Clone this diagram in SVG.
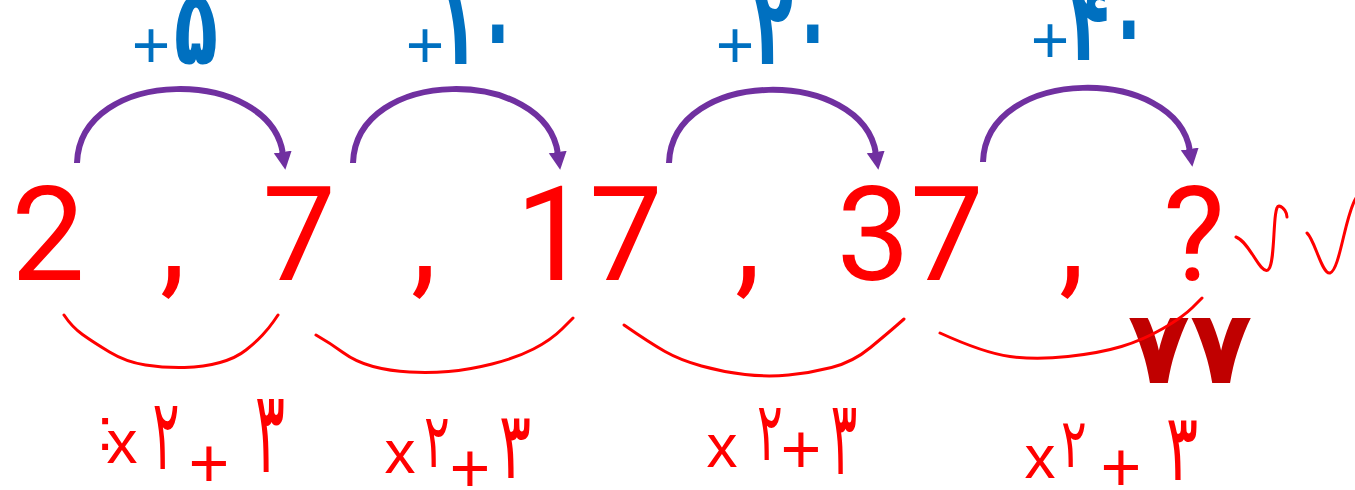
<svg xmlns="http://www.w3.org/2000/svg" width="1355" height="490" viewBox="0 0 1355 490">
<style>
.num{font-family:Roboto,"Liberation Sans",sans-serif;font-size:131px;fill:#ff0000;text-anchor:middle}
.plus{font-family:"Liberation Sans",Arial,sans-serif;font-size:66px;fill:#0070c0;text-anchor:middle}
.pd{font-family:"DejaVu Sans",sans-serif;font-weight:bold;font-size:72px;fill:#0070c0;text-anchor:middle}
.arc{fill:none;stroke:#7030a0;stroke-width:6;stroke-linecap:butt;marker-end:url(#ah)}
.ul{fill:none;stroke:#ff0000;stroke-width:3;stroke-linecap:round;stroke-linejoin:round}
.hw{font-family:"DejaVu Sans",sans-serif;fill:#ff0000;text-anchor:middle}
.hx{font-family:"Liberation Sans",sans-serif;font-size:62px}
.hd{font-size:80px}
.hp{font-family:"Liberation Sans",sans-serif;font-size:70px}
.ans{font-family:"DejaVu Sans",sans-serif;font-weight:bold;font-size:102px;fill:#c00000;text-anchor:middle}
</style>
<defs>
<marker id="ah" markerUnits="userSpaceOnUse" markerWidth="18" markerHeight="20" viewBox="0 0 18 20" refX="2" refY="10" orient="auto">
<path d="M0,1 L18,10 L0,19 z" fill="#7030a0"/>
</marker>
</defs>
<rect width="1355" height="490" fill="#ffffff"/>

<g id="label-plus5"><text class="plus" x="151" y="68">+</text><text class="pd" transform="translate(196,64) scale(1,1.5)">۵</text></g>
<g id="label-plus10"><text class="plus" x="425" y="68">+</text><text class="pd" transform="translate(478,64) scale(0.9,1.5)">۱۰</text></g>
<g id="label-plus20"><text class="plus" x="735" y="68">+</text><text class="pd" transform="translate(793,64) scale(0.9,1.5)">۲۰</text></g>
<g id="label-plus40"><text class="plus" x="1050" y="63">+</text><text class="pd" transform="translate(1109,60) scale(0.9,1.5)">۴۰</text></g>

<g id="n1"><text class="num" x="48" y="280">2</text></g>
<g id="c1"><text class="num" x="173" y="280">,</text></g>
<g id="n2"><text class="num" x="299" y="280">7</text></g>
<g id="c2"><text class="num" x="424" y="280">,</text></g>
<g id="n3"><text class="num" x="589" y="280">17</text></g>
<g id="c3"><text class="num" x="748" y="280">,</text></g>
<g id="n4"><text class="num" x="910" y="280">37</text></g>
<g id="c4"><text class="num" x="1072" y="280">,</text></g>
<g id="n5"><text class="num" x="1194" y="280">?</text></g>

<g id="checks">
<path class="ul" stroke-width="2.5" d="M1236,237 C1250,242 1260,275 1268,270 C1276,265 1272,205 1279,206 C1284,207 1287,213 1287,217"/>
<path class="ul" stroke-width="2.5" d="M1307,233 C1315,240 1322,275 1330,273 C1340,270 1345,215 1356,198"/>
</g>

<g id="answer"><text class="ans" x="1190" y="383">۷۷</text></g>

<g id="rule1">
<text class="hw hx" x="105" y="450" font-size="24">:</text>
<text class="hw hx" x="122" y="463">x</text>
<text class="hw hd" transform="translate(166,469) scale(0.63,1.24)">۲</text>
<text class="hw hp" x="209" y="487">+</text>
<text class="hw hd" transform="translate(270,472) scale(0.7,1.44)">۳</text>
</g>
<g id="rule2">
<text class="hw hx" x="400" y="473">x</text>
<text class="hw hd" transform="translate(437,467) scale(0.6,0.95)">۲</text>
<text class="hw hp" x="470" y="492">+</text>
<text class="hw hd" transform="translate(515,478) scale(0.75,1.17)">۳</text>
</g>
<g id="rule3">
<text class="hw hx" x="722" y="467">x</text>
<text class="hw hd" transform="translate(770,460) scale(0.6,1.02)">۲</text>
<text class="hw hp" x="801" y="473">+</text>
<text class="hw hd" transform="translate(844,474) scale(0.62,1.3)">۳</text>
</g>
<g id="rule4">
<text class="hw hx" x="1040" y="478">x</text>
<text class="hw hd" transform="translate(1074,467) scale(0.6,0.86)">۲</text>
<text class="hw hp" x="1121" y="491">+</text>
<text class="hw hd" transform="translate(1182,480) scale(0.75,1.17)">۳</text>
</g>

<g id="connectors">
<path class="arc" d="M77,163 C80,66 270,66 283,154"/>
<path class="arc" d="M353,163 C356,66 546,66 558,154"/>
<path class="arc" d="M669,163 C672,67 863,67 876,154"/>
<path class="arc" d="M983,162 C986,65 1177,65 1190,151"/>
<path class="ul" d="M64,315 Q72,327 82.5,334.5 Q93,342 109.5,352 Q126,362 145.5,365 Q165,368 184.5,367.5 Q204,367 220,362.5 Q236,358 246,350 Q256,342 262.5,335 Q269,328 273.5,321.5 L278,315"/>
<path class="ul" d="M316,335 Q330,343 343,352.5 Q356,362 373,366.5 Q390,371 409.5,372 Q429,373 448.5,371.5 Q468,370 492,364 Q516,358 533.5,349 Q551,340 562,329 L573,318"/>
<path class="ul" d="M624,325 Q650,343 665,351.5 Q680,360 701.5,366 Q723,372 745,374.5 Q767,377 788.5,375 Q810,373 831.5,367.5 Q853,362 870.5,347.5 Q888,333 896,326 L904,319"/>
<path class="ul" d="M940,333 Q984,353 1010,356.5 Q1036,360 1068,356.5 Q1100,353 1121.5,346.5 Q1143,340 1163,328.5 Q1183,317 1192.5,307.5 L1202,298"/>
</g>
</svg>
